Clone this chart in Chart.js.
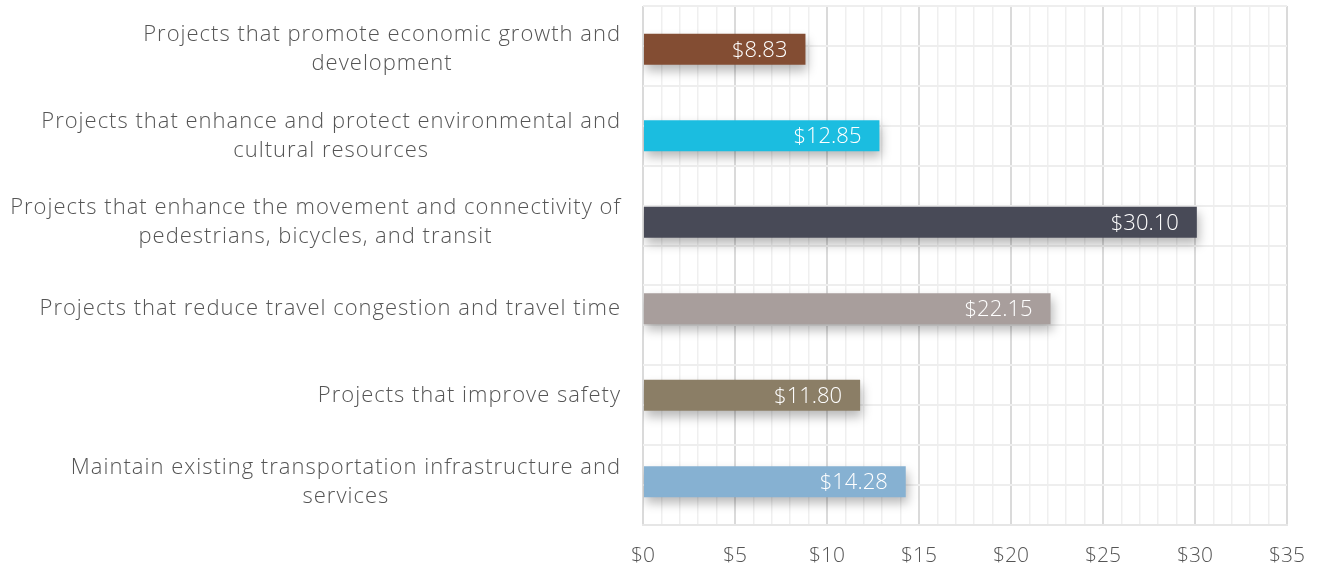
<!DOCTYPE html>
<html>
<head>
<meta charset="utf-8">
<script src="https://cdn.jsdelivr.net/npm/chart.js@4"></script>
<style>
html,body{margin:0;padding:0;background:#fff;}
#wrap{width:1319px;height:569px;position:relative;}
</style>
</head>
<body>
<div id="wrap"><canvas id="c"></canvas></div>
<script>
const categories = [
  ["Projects that promote economic growth and", "development"],
  ["Projects that enhance and protect environmental and", "cultural resources"],
  ["Projects that enhance the movement and connectivity of", "pedestrians, bicycles, and transit"],
  ["Projects that reduce travel congestion and travel time"],
  ["Projects that improve safety"],
  ["Maintain existing transportation infrastructure and", "services"]
];
const values = [8.83, 12.85, 30.10, 22.15, 11.80, 14.28];
const barColors = ["#834d33", "#1bbde0", "#484a57", "#a89e9c", "#8b7e66", "#86b1d2"];
const xTickMin = 0, xTickMax = 35, xMajorStep = 5;

const FONT = "'Open Sans', sans-serif";
const TEXT = "#555555";

const shadowPlugin = {
  id: 'barShadow',
  beforeDatasetDraw(chart) {
    const ctx = chart.ctx;
    ctx.save();
    ctx.shadowColor = 'rgba(0,0,0,0.28)';
    ctx.shadowBlur = 10;
    ctx.shadowOffsetX = 2;
    ctx.shadowOffsetY = 6;
  },
  afterDatasetDraw(chart) { chart.ctx.restore(); }
};

const valueLabelPlugin = {
  id: 'valueLabels',
  afterDatasetsDraw(chart) {
    const ctx = chart.ctx;
    const meta = chart.getDatasetMeta(0);
    ctx.save();
    ctx.font = "300 22px " + FONT;
    ctx.fillStyle = "#ffffff";
    ctx.textAlign = "right";
    ctx.textBaseline = "middle";
    meta.data.forEach((bar, i) => {
      ctx.fillText("$" + values[i].toFixed(2), bar.x - 18, bar.y + 1);
    });
    ctx.restore();
  }
};

const yLabelPlugin = {
  id: 'yLabels',
  afterDraw(chart) {
    const ctx = chart.ctx;
    const scale = chart.scales.y;
    ctx.save();
    ctx.font = "300 22px " + FONT;
    try { ctx.letterSpacing = "1px"; } catch (e) {}
    ctx.fillStyle = TEXT;
    ctx.textAlign = "center";
    ctx.textBaseline = "middle";
    const right = chart.chartArea.left - 22;
    const lh = 29;
    categories.forEach((lines, i) => {
      const y = scale.getPixelForTick(i);
      let maxW = 0;
      lines.forEach(l => { maxW = Math.max(maxW, ctx.measureText(l).width); });
      const cx = right - maxW / 2;
      const y0 = y - (lines.length - 1) * lh / 2;
      lines.forEach((l, k) => ctx.fillText(l, cx, y0 + k * lh));
    });
    ctx.restore();
  }
};

new Chart(document.getElementById('c'), {
  type: 'bar',
  data: {
    labels: categories,
    datasets: [{
      data: values,
      backgroundColor: barColors,
      borderWidth: 0,
      categoryPercentage: 1,
      barPercentage: 0.36
    }]
  },
  options: {
    indexAxis: 'y',
    responsive: true,
    maintainAspectRatio: false,
    animation: false,
    layout: { padding: { top: 6, right: 32, left: 0, bottom: 0 } },
    plugins: { legend: { display: false }, tooltip: { enabled: false } },
    scales: {
      x: {
        min: xTickMin, max: xTickMax,
        ticks: {
          stepSize: 1,
          autoSkip: false,
          maxRotation: 0,
          color: TEXT,
          font: { family: FONT, size: 21, weight: '300' },
          padding: 18,
          callback: (v) => (v % xMajorStep === 0 ? "$" + v : "")
        },
        grid: {
          drawTicks: false,
          color: (c) => (c.tick && c.tick.value % xMajorStep === 0 ? "#dadada" : "#efefef"),
          lineWidth: (c) => (c.tick && c.tick.value % xMajorStep === 0 ? 2 : 1.5)
        },
        border: { display: true, color: "#e6e6e6", width: 2 },
        afterFit: (scale) => { scale.height = 44; scale.paddingRight = 0; scale.paddingLeft = 0; }
      },
      y: {
        type: 'category',
        ticks: { display: false },
        grid: { display: false, drawTicks: false },
        border: { display: false },
        afterFit: (scale) => { scale.width = 643; }
      },
      y2: {
        type: 'linear',
        axis: 'y',
        position: 'left',
        min: -0.5, max: 5.5,
        ticks: { display: false, stepSize: 0.5 },
        grid: { color: "#eeeeee", lineWidth: 2, drawTicks: false },
        border: { display: false },
        afterFit: (scale) => { scale.width = 0; }
      }
    }
  },
  plugins: [shadowPlugin, valueLabelPlugin, yLabelPlugin]
});
</script>
</body>
</html>
